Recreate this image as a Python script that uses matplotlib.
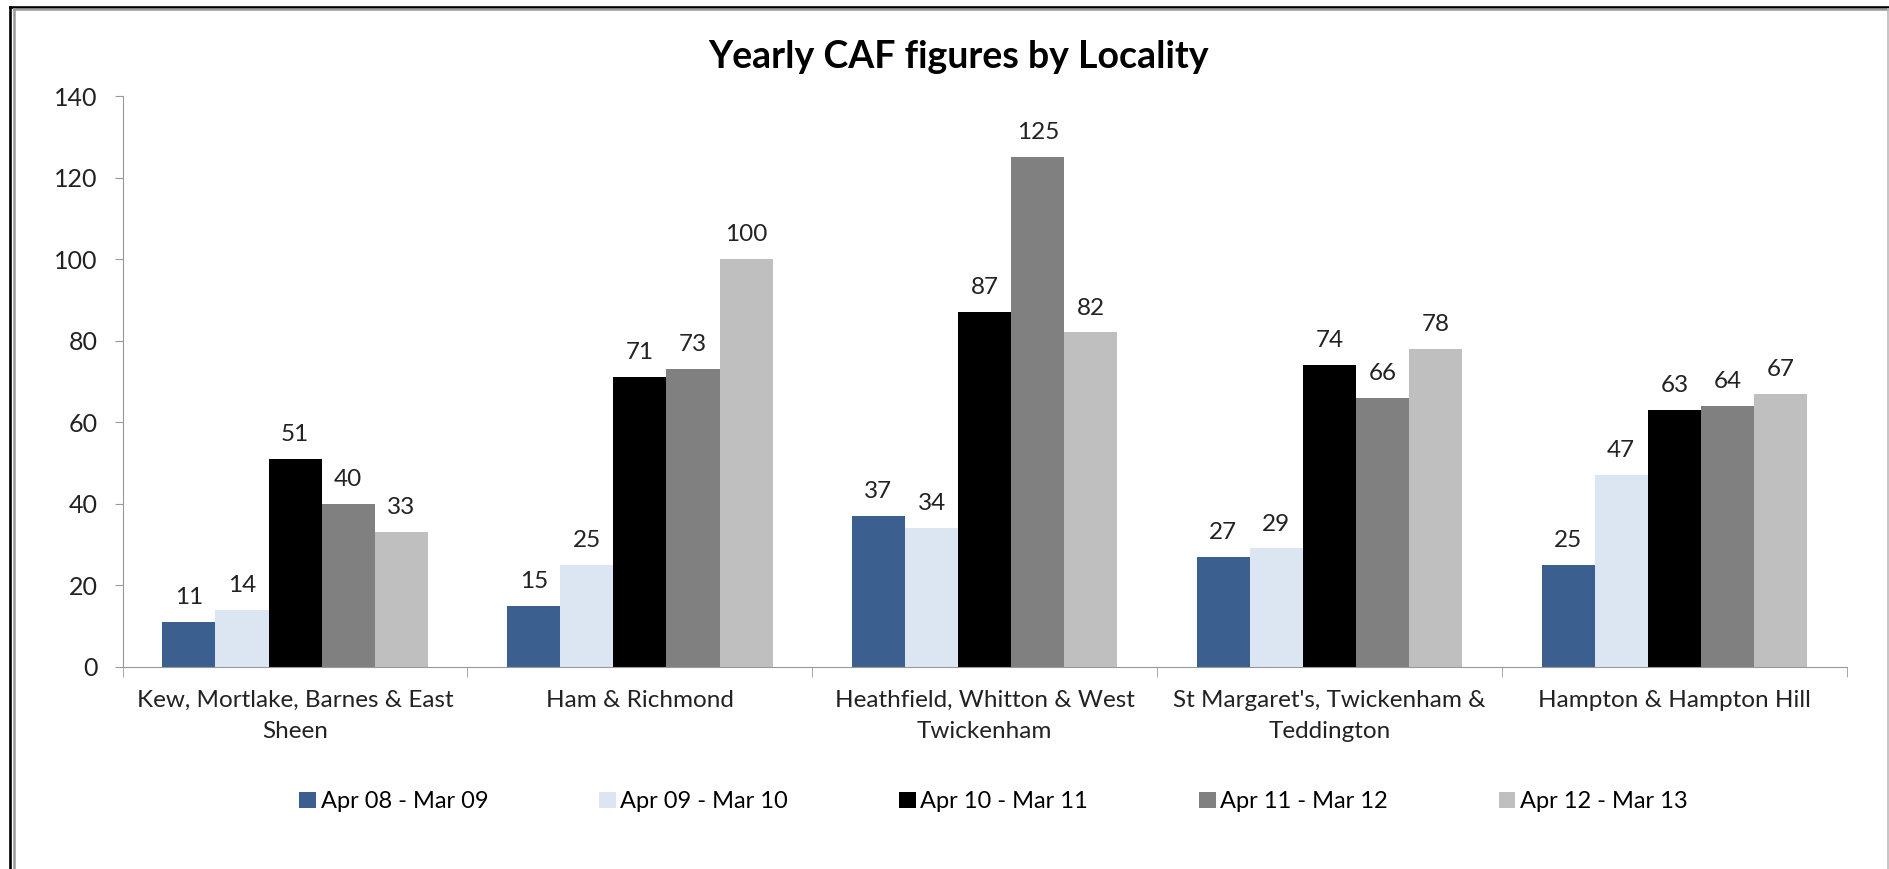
import numpy as np
from matplotlib import pyplot as plt
from matplotlib.lines import Line2D

# 数据
localities = ["Kew, Mortlake, Barnes & East\nSheen", "Ham & Richmond",
              "Heathfield, Whitton & West\nTwickenham",
              "St Margaret's, Twickenham &\nTeddington", "Hampton & Hampton Hill"]
periods = ["Apr 08 - Mar 09", "Apr 09 - Mar 10", "Apr 10 - Mar 11",
           "Apr 11 - Mar 12", "Apr 12 - Mar 13"]
apr08 = [11, 15, 37, 27, 25]
apr09 = [14, 25, 34, 29, 47]
apr10 = [51, 71, 87, 74, 63]
apr11 = [40, 73, 125, 66, 64]
apr12 = [33, 100, 82, 78, 67]
series = [apr08, apr09, apr10, apr11, apr12]
colors = ["#3B5F8F", "#DCE6F2", "#000000", "#808080", "#BFBFBF"]

plt.rcParams['font.family'] = ['Lato', 'DejaVu Sans']

fig = plt.figure(figsize=(18.9, 8.69), dpi=100)
ax = fig.add_axes([0.0649, 0.2328, 0.9122, 0.6567])

x = np.arange(len(localities))
w = 0.154
for i, (vals, c, lab) in enumerate(zip(series, colors, periods)):
    pos = x + (i - 2) * w
    bars = ax.bar(pos, vals, width=w, color=c, label=lab)
    for b, v in zip(bars, vals):
        ax.annotate(str(v), (b.get_x() + b.get_width() / 2, v),
                    xytext=(0, 10), textcoords="offset points",
                    ha="center", va="bottom", fontsize=17.5, color="#222222")

ax.set_xlim(-0.5, len(localities) - 0.5)
ax.set_ylim(0, 140)
ax.set_yticks(range(0, 141, 20))
ax.tick_params(axis="y", labelsize=18, length=6, color="#999999",
               labelcolor="#222222", pad=12)

# x轴刻度在类别边界
ax.set_xticks(x)
ax.set_xticklabels(localities, fontsize=17.5, color="#222222", linespacing=1.55)
ax.tick_params(axis="x", length=0, pad=17)
ax.set_xticks(np.arange(-0.5, len(localities), 1), minor=True)
ax.tick_params(axis="x", which="minor", length=7, color="#999999")

for s in ["top", "right"]:
    ax.spines[s].set_visible(False)
for s in ["left", "bottom"]:
    ax.spines[s].set_color("#999999")

fig.text(0.507, 0.934, "Yearly CAF figures by Locality", ha="center",
         va="center", fontsize=27, fontweight="bold")

fig.legend(loc="center", bbox_to_anchor=(0.5257, 0.0775), ncol=5,
           frameon=False, fontsize=17, handlelength=0.7, handleheight=0.7,
           columnspacing=4.7, handletextpad=0.2)

# 外边框
tf = fig.transFigure
fig.add_artist(Line2D([0.0054, 1.0], [0.9917, 0.9917], transform=tf, color="black", lw=1.9))
fig.add_artist(Line2D([0.0054, 0.0054], [0.0, 0.9917], transform=tf, color="black", lw=1.9))
fig.add_artist(Line2D([0.0072, 0.9988], [0.9891, 0.9891], transform=tf, color="#999999", lw=1.8))
fig.add_artist(Line2D([0.0072, 0.0072], [0.0, 0.9891], transform=tf, color="#999999", lw=1.8))
fig.add_artist(Line2D([0.9988, 0.9988], [0.0, 0.9891], transform=tf, color="#BBBBBB", lw=1.2))

plt.savefig("out.png", dpi=100)
